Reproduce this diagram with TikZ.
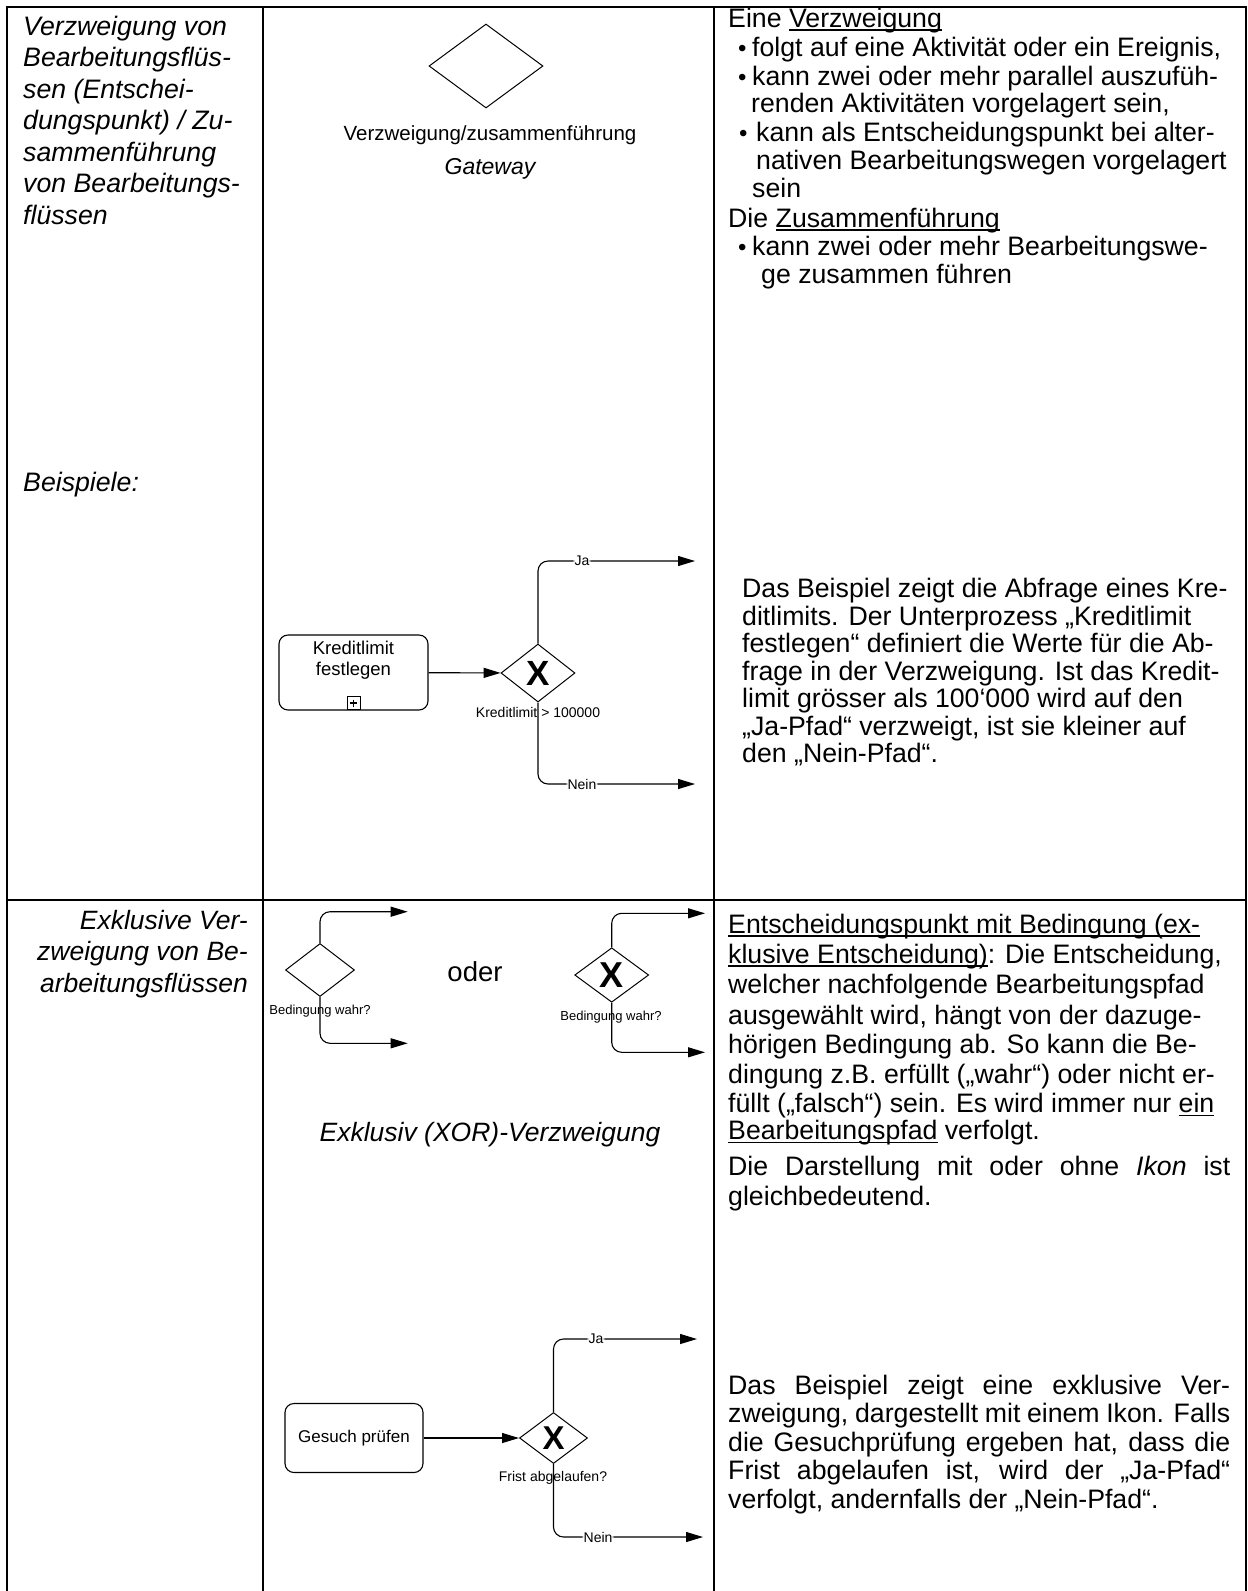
\documentclass[tikz,border=0pt]{standalone}
\usepackage{fontspec}
\setmainfont{Liberation Sans}
\usepackage{graphicx}
\usetikzlibrary{arrows.meta,shapes.geometric,calc}
% underline that sits just below the baseline, as in a word processor
\newcommand\ulword[1]{\setbox0\hbox{#1}\rlap{\rule[-3.6pt]{\wd0}{1.5pt}}\box0\relax}
\newcommand\fs[2]{\fontsize{#1}{#2}\selectfont}
\newcommand\bul{\makebox[14pt][l]{\fontsize{24}{24}\selectfont•}}
\begin{document}
\begin{tikzpicture}[x=1pt,y=-1pt,
  rule/.style={line width=1.6pt},
  body/.style={anchor=base west, inner sep=0pt, font=\fs{26.7}{29}},
  lefttitle/.style={anchor=base west, inner sep=0pt, font=\fs{26.7}{30}\itshape},
  righttitle/.style={anchor=base east, inner sep=0pt, font=\fs{26.5}{30}\itshape},
  task/.style={draw, rounded corners=9pt, line width=1.1pt, inner sep=0pt},
  gate/.style={draw, diamond, inner sep=0pt, line width=1pt},
  xmark/.style={inner sep=0pt, font=\fs{35}{35}\bfseries},
  flow/.style={line width=1.1pt, rounded corners=10pt, -{Triangle[length=17pt,width=10pt]}},
  pathlbl/.style={fill=white, inner sep=1pt, font=\fs{14}{14}},
  cond/.style={anchor=base, inner sep=0pt, font=\fs{14}{14}},
]
\useasboundingbox (0,0) rectangle (1248,1591);
\fill[white] (0,0) rectangle (1248,1591);

% table rules
\draw[rule] (7,1591) -- (7,7) -- (1246,7) -- (1246,1591);
\draw[rule] (263,7) -- (263,1591);
\draw[rule] (714,7) -- (714,1591);
\draw[rule] (7,900) -- (1246,900);

% ---------- row 1, left column
\node[lefttitle] (a1) at (23,35)    {Verzweigung von};
\node[lefttitle] (a2) at (23,66.5)  {Bearbeitungsflüs-};
\node[lefttitle] (a3) at (23,98)    {sen (Entschei-};
\node[lefttitle] (a4) at (23,129.5) {dungspunkt) / Zu-};
\node[lefttitle] (a5) at (23,161)   {sammenführung};
\node[lefttitle] (a6) at (23,192.5) {von Bearbeitungs-};
\node[lefttitle] (a7) at (23,224)   {flüssen};
\node[lefttitle] (a8) at (23,491)   {Beispiele:};

% ---------- row 1, symbol
\node[gate, minimum width=114pt, minimum height=84pt] (g0) at (486,66) {};
\node[anchor=base, inner sep=0pt, font=\fs{20.5}{20.5}] (g0l) at (490,140) {Verzweigung/zusammenführung};
\node[anchor=base, inner sep=0pt, font=\fs{23}{23}\itshape] (g0n) at (490,174) {Gateway};

% ---------- row 1, example
\node[task, minimum width=149pt, minimum height=75pt] (k1) at (353.5,672.5) {};
\node[align=center, inner sep=0pt, font=\fs{18.5}{21}] (k1t) at (353.5,660) {Kreditlimit\\festlegen};
\node[draw, line width=0.9pt, minimum size=13pt, inner sep=0pt] (k1m) at (353.5,703) {};
\draw[line width=1.5pt] ($(k1m.center)+(-3.5,0)$) -- ($(k1m.center)+(3.5,0)$);
\draw[line width=1.5pt] ($(k1m.center)+(0,-3.5)$) -- ($(k1m.center)+(0,3.5)$);
\node[gate, minimum width=74pt, minimum height=58pt] (g1) at (538,673) {};
\node[xmark] (x1) at (g1.center) {X};
\node[cond] (c1) at (538,717) {Kreditlimit > 100000};
\coordinate (j1) at (695,561);
\coordinate (n1) at (695,784);
\draw[flow] (k1) -- (g1);
\draw[flow] (g1.north) |- node[pathlbl, pos=0.64] (l1) {Ja} (j1);
\draw[flow] (g1.south) |- node[pathlbl, pos=0.64] (l2) {Nein} (n1);

% ---------- row 1, right column
\node[body] (r1)  at (728,27)    {Eine \ulword{Verzweigung}};
\node[body] (r2)  at (738,56)    {\bul folgt auf eine Aktivität oder ein Ereignis,};
\node[body] (r3)  at (738,85)    {\bul kann zwei oder mehr parallel auszufüh-};
\node[body] (r4)  at (751,112.5) {renden Aktivitäten vorgelagert sein,};
\node[body] (r5)  at (739,141)   {\bul\hspace{3pt}kann als Entscheidungspunkt bei alter-};
\node[body] (r6)  at (756,169)   {nativen Bearbeitungswegen vorgelagert};
\node[body] (r7)  at (752,197)   {sein};
\node[body] (r8)  at (728,227)   {Die \ulword{Zusammenführung}};
\node[body] (r9)  at (738,255.5) {\bul kann zwei oder mehr Bearbeitungswe-};
\node[body] (r10) at (761,283)   {ge zusammen führen};

\node[body] (s1) at (742,597)   {Das Beispiel zeigt die Abfrage eines Kre-};
\node[body] (s2) at (742,625.4) {ditlimits. Der Unterprozess „Kreditlimit};
\node[body] (s3) at (742,652.8) {festlegen“ definiert die Werte für die Ab-};
\node[body] (s4) at (742,680.2) {frage in der Verzweigung. Ist das Kredit-};
\node[body] (s5) at (742,707.5) {limit grösser als 100‘000 wird auf den};
\node[body] (s6) at (742,735)   {„Ja-Pfad“ verzweigt, ist sie kleiner auf};
\node[body] (s7) at (742,762.4) {den „Nein-Pfad“.};

% ---------- row 2, left column
\node[righttitle] (e1) at (248,929)   {Exklusive Ver-};
\node[righttitle] (e2) at (248,960.5) {zweigung von Be-};
\node[righttitle] (e3) at (248,992)   {arbeitungsflüssen};

% ---------- row 2, symbols
\node[gate, minimum width=69pt, minimum height=53pt] (g2) at (320,970) {};
\coordinate (g2u) at (407.7,911.7);
\coordinate (g2d) at (407.7,1043.3);
\draw[flow] (g2.north) |- (g2u);
\draw[flow] (g2.south) |- (g2d);
\node[cond, font=\fs{13}{13}] (c2) at (320,1014) {Bedingung wahr?};

\node[inner sep=0pt, font=\fs{27.5}{27.5}] (od) at (475,972) {oder};

\node[gate, minimum width=74pt, minimum height=54.5pt] (g3) at (611.7,975) {};
\node[xmark, font=\fs{36}{36}\bfseries] (x3) at (g3.center) {X};
\coordinate (g3u) at (705,913.3);
\coordinate (g3d) at (705,1052.3);
\draw[flow] (g3.north) |- (g3u);
\draw[flow] (g3.south) |- (g3d);
\node[cond, font=\fs{13}{13}] (c3) at (611,1020) {Bedingung wahr?};

\node[anchor=base, inner sep=0pt, font=\fs{26.5}{26.5}\itshape] (xor) at (490,1141) {Exklusiv (XOR)-Verzweigung};

% ---------- row 2, example
\node[task, minimum width=138pt, minimum height=69pt, font=\fs{17}{17}] (gp) at (354,1438) {Gesuch prüfen};
\node[gate, minimum width=68pt, minimum height=51pt] (gx) at (553.5,1438) {};
\node[xmark, font=\fs{33}{33}\bfseries] (x4) at (gx.center) {X};
\node[cond] (c4) at (553,1481) {Frist abgelaufen?};
\coordinate (j2) at (697,1339);
\coordinate (n2) at (703,1537);
\draw[flow] (gp) -- (gx);
\draw[flow] (gx.north) |- node[pathlbl, pos=0.648] (l3) {Ja} (j2);
\draw[flow] (gx.south) |- node[pathlbl, pos=0.649] (l4) {Nein} (n2);

% ---------- row 2, right column
\node[body] (u1)  at (728,933)   {\ulword{Entscheidungspunkt mit Bedingung (ex-}};
\node[body] (u2)  at (728,963)   {\ulword{klusive Entscheidung)}: Die Entscheidung,};
\node[body] (u3)  at (728,993)   {welcher nachfolgende Bearbeitungspfad};
\node[body] (u4)  at (728,1024)  {ausgewählt wird, hängt von der dazuge-};
\node[body] (u5)  at (728,1053.5){hörigen Bedingung ab. So kann die Be-};
\node[body] (u6)  at (728,1083.5){dingung z.B. erfüllt („wahr“) oder nicht er-};
\node[body] (u7)  at (728,1112.5){füllt („falsch“) sein. Es wird immer nur \ulword{ein}};
\node[body] (u8)  at (728,1139.5){\ulword{Bearbeitungspfad} verfolgt.};
\node[body] (u9)  at (728,1175)  {\makebox[502pt][s]{Die Darstellung mit oder ohne \textit{Ikon} ist}};
\node[body] (u10) at (728,1205)  {gleichbedeutend.};

\node[body] (v1) at (728,1394)   {\makebox[502pt][s]{Das Beispiel zeigt eine exklusive Ver-}};
\node[body] (v2) at (728,1422.5) {\makebox[502pt][s]{zweigung, dargestellt mit einem Ikon. Falls}};
\node[body] (v3) at (728,1451)   {\makebox[502pt][s]{die Gesuchprüfung ergeben hat, dass die}};
\node[body] (v4) at (728,1479.5) {\makebox[502pt][s]{Frist abgelaufen ist, wird der „Ja-Pfad“}};
\node[body] (v5) at (728,1508)   {verfolgt, andernfalls der „Nein-Pfad“.};
\end{tikzpicture}
\end{document}
